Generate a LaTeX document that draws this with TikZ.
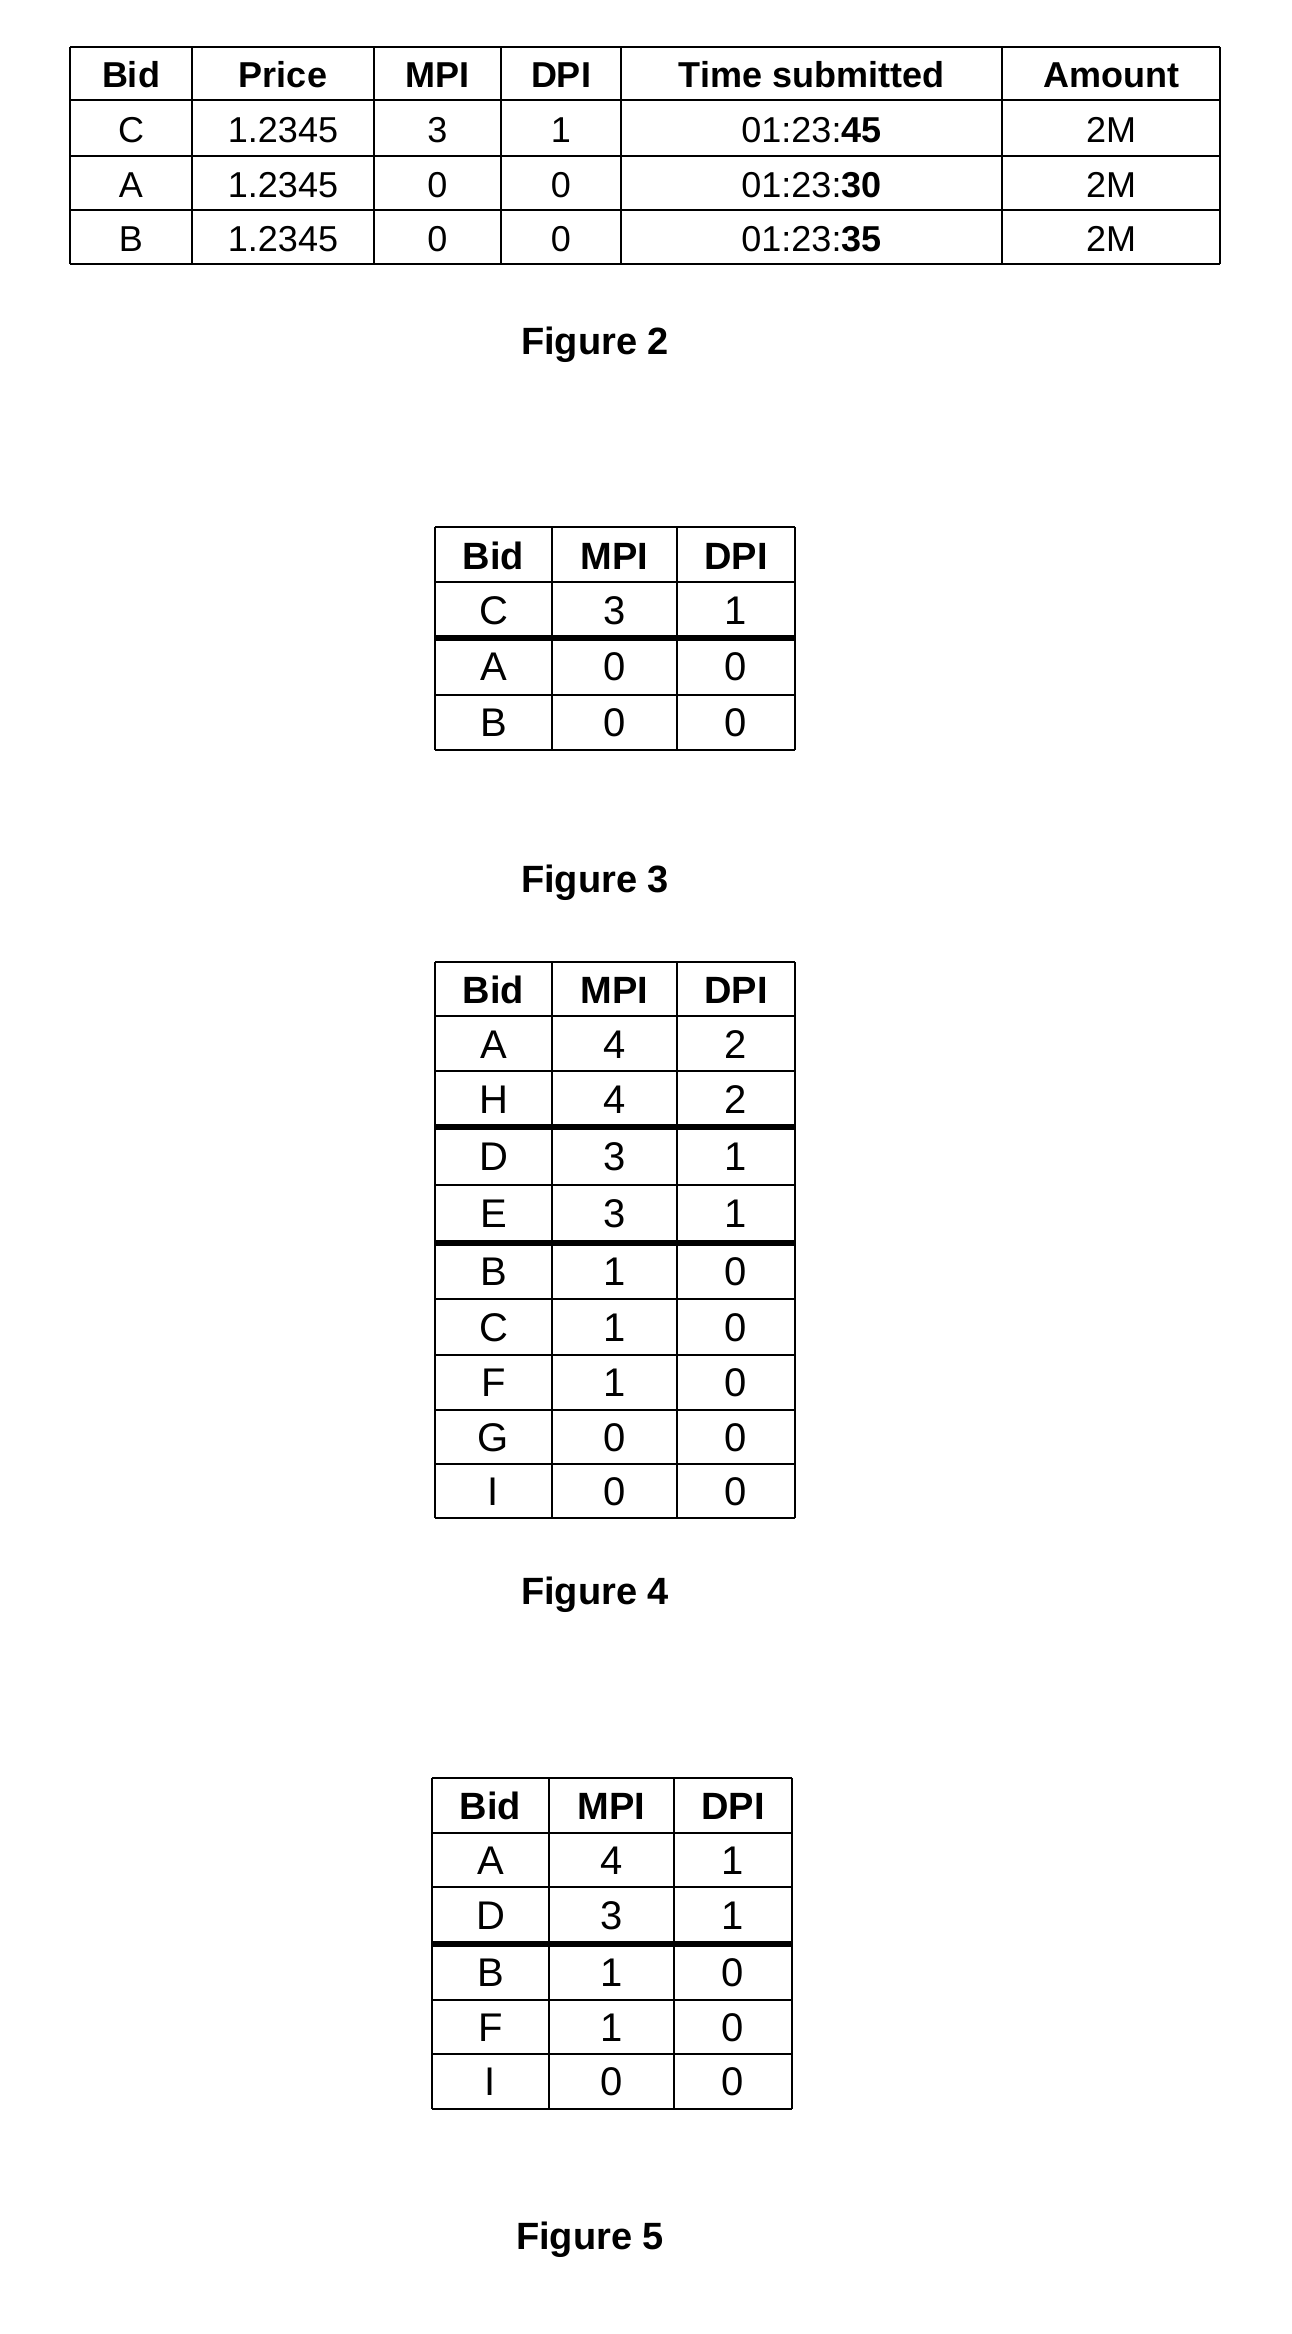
\documentclass[tikz,border=0pt]{standalone}
\usepackage{fontspec}
\setmainfont{Liberation Sans}
\begin{document}
\begin{tikzpicture}[x=1pt,y=-1pt,
  cell/.style={font=\fontsize{36}{40}\selectfont,anchor=center,inner sep=0pt},
  hcell/.style={font=\fontsize{36}{40}\selectfont\bfseries,anchor=center,inner sep=0pt},
  tcell/.style={font=\fontsize{40}{44}\selectfont,anchor=center,inner sep=0pt},
  thcell/.style={font=\fontsize{38}{44}\selectfont\bfseries,anchor=center,inner sep=0pt},
  figcap/.style={font=\fontsize{38}{44}\selectfont\bfseries,anchor=center},
  gridline/.style={line width=2.5pt},
  sepline/.style={line width=6pt}]
\useasboundingbox (0,0) rectangle (1291,2334);
% ---------- Figure 2 table ----------
\foreach \x in {70,192,374,501,621,1002,1220} {\draw[gridline] (\x,47) -- (\x,264);}
\foreach \y in {47,100,156,210,264} {\draw[gridline] (70,\y) -- (1220,\y);}
\foreach \t/\x [count=\i] in {Bid/131,Price/283,MPI/437.5,DPI/561,Time submitted/811.5,Amount/1111}
  \node[hcell] (h2-\i) at (\x,75) {\t};
\foreach \a/\b/\c/\d/\e/\y [count=\r] in {C/3/1/{01:23:\textbf{45}}/2M/130, A/0/0/{01:23:\textbf{30}}/2M/185, B/0/0/{01:23:\textbf{35}}/2M/239}{
  \node[cell] (f2-\r-1) at (131,\y) {\a};
  \node[cell] (f2-\r-2) at (283,\y) {1.2345};
  \node[cell] (f2-\r-3) at (437.5,\y) {\b};
  \node[cell] (f2-\r-4) at (561,\y) {\c};
  \node[cell] (f2-\r-5) at (811.5,\y) {\d};
  \node[cell] (f2-\r-6) at (1111,\y) {\e};
}
\node[figcap] (cap2) at (595,345) {Figure 2};
% ---------- Figure 3 table ----------
\foreach \x in {435,552,677,795} {\draw[gridline] (\x,527) -- (\x,750);}
\foreach \y in {527,582,695,750} {\draw[gridline] (435,\y) -- (795,\y);}
\draw[sepline] (435,638) -- (795,638);
\node[thcell] (h3-1) at (493.5,556) {Bid};
\node[thcell] (h3-2) at (614.5,556) {MPI};
\node[thcell] (h3-3) at (736,556) {DPI};
\foreach \a/\b/\c/\y [count=\r] in {C/3/1/611, A/0/0/667, B/0/0/723}{
  \node[tcell] (f3-\r-1) at (493.5,\y) {\a};
  \node[tcell] (f3-\r-2) at (614.5,\y) {\b};
  \node[tcell] (f3-\r-3) at (736,\y) {\c};
}
\node[figcap] (cap3) at (595,883) {Figure 3};
% ---------- Figure 4 table ----------
\foreach \x in {435,552,677,795} {\draw[gridline] (\x,962) -- (\x,1518);}
\foreach \y in {962,1016,1071,1185,1299,1355,1410,1464,1518} {\draw[gridline] (435,\y) -- (795,\y);}
\draw[sepline] (435,1127) -- (795,1127);
\draw[sepline] (435,1243) -- (795,1243);
\node[thcell] (h4-1) at (493.5,990) {Bid};
\node[thcell] (h4-2) at (614.5,990) {MPI};
\node[thcell] (h4-3) at (736,990) {DPI};
\foreach \a/\b/\c/\y [count=\r] in {A/4/2/1045, H/4/2/1100, D/3/1/1157, E/3/1/1214, B/1/0/1272, C/1/0/1328, F/1/0/1383, G/0/0/1438, I/0/0/1492}{
  \node[tcell] (f4-\r-1) at (493.5,\y) {\a};
  \node[tcell] (f4-\r-2) at (614.5,\y) {\b};
  \node[tcell] (f4-\r-3) at (736,\y) {\c};
}
\node[figcap] (cap4) at (595,1595) {Figure 4};
% ---------- Figure 5 table ----------
\foreach \x in {432,549,674,792} {\draw[gridline] (\x,1778) -- (\x,2109);}
\foreach \y in {1778,1833,1887,2000,2054,2109} {\draw[gridline] (432,\y) -- (792,\y);}
\draw[sepline] (432,1944) -- (792,1944);
\node[thcell] (h5-1) at (490.5,1806) {Bid};
\node[thcell] (h5-2) at (611.5,1806) {MPI};
\node[thcell] (h5-3) at (733,1806) {DPI};
\foreach \a/\b/\c/\y [count=\r] in {A/4/1/1861, D/3/1/1916, B/1/0/1973, F/1/0/2028, I/0/0/2082}{
  \node[tcell] (f5-\r-1) at (490.5,\y) {\a};
  \node[tcell] (f5-\r-2) at (611.5,\y) {\b};
  \node[tcell] (f5-\r-3) at (733,\y) {\c};
}
\node[figcap] (cap5) at (590,2240) {Figure 5};
\end{tikzpicture}
\end{document}
